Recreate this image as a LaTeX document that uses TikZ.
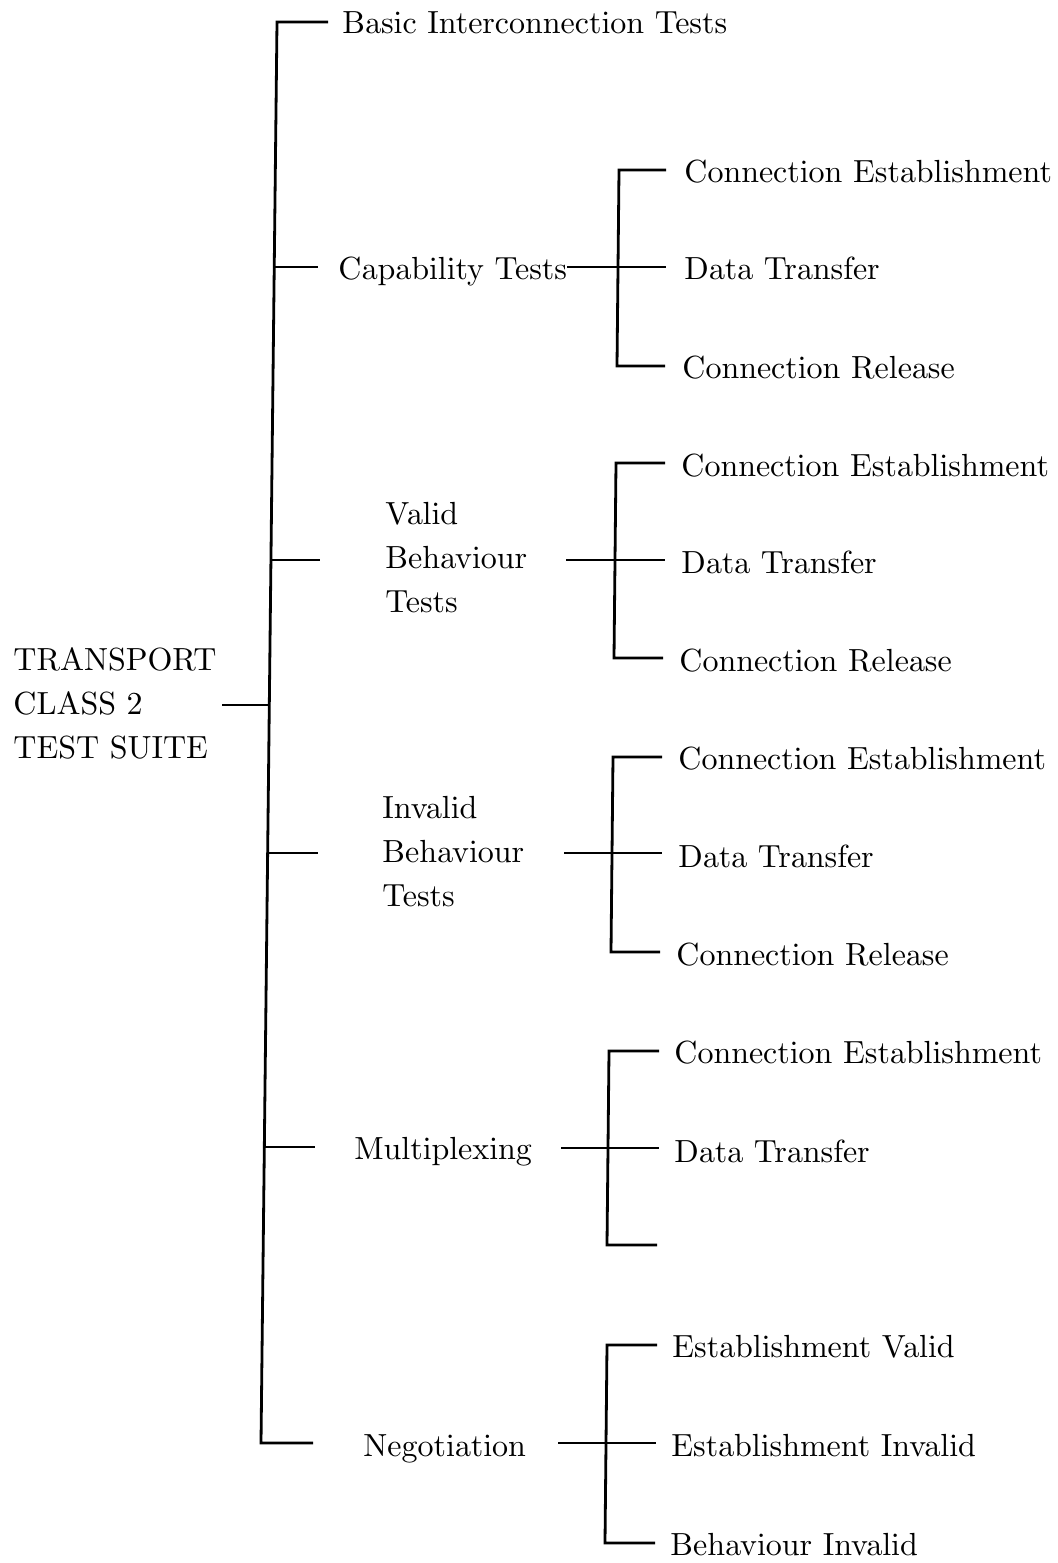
\documentclass[tikz,border=0pt]{standalone}
\font\trm=cmr10 at 16pt
\begin{document}
\begin{tikzpicture}[x=0.5pt,y=-0.5pt, line width=1.4pt,
  lbl/.style={inner sep=0pt, font={\fontsize{16}{22}\selectfont\trm}, anchor=base west},
  mlbl/.style={inner sep=0pt, font={\fontsize{16}{22}\selectfont\trm}, anchor=west, align=left}]
\useasboundingbox (0,0) rectangle (1058,1563);
% ---- text nodes ----
\node[mlbl] (root) at (12,704) {TRANSPORT\\CLASS 2\\TEST SUITE};
\node[lbl] (basic) at (341,33) {Basic Interconnection Tests};
\node[lbl] (cap) at (337,279) {Capability Tests};
\node[mlbl] (valid) at (384,557) {Valid\\Behaviour\\Tests};
\node[mlbl] (invalid) at (381,851) {Invalid\\Behaviour\\Tests};
\node[lbl] (mux) at (353,1159) {Multiplexing};
\node[lbl] (neg) at (362,1456) {Negotiation};
% capability children
\node[lbl] (c1) at (683,182) {Connection Establishment};
\node[lbl] (c2) at (683,279) {Data Transfer};
\node[lbl] (c3) at (681,378) {Connection Release};
% valid children
\node[lbl] (v1) at (680,476) {Connection Establishment};
\node[lbl] (v2) at (680,573) {Data Transfer};
\node[lbl] (v3) at (678,671) {Connection Release};
% invalid children
\node[lbl] (i1) at (677,769) {Connection Establishment};
\node[lbl] (i2) at (677,867) {Data Transfer};
\node[lbl] (i3) at (675,965) {Connection Release};
% multiplexing children
\node[lbl] (m1) at (673,1063) {Connection Establishment};
\node[lbl] (m2) at (673,1162) {Data Transfer};
% negotiation children
\node[lbl] (n1) at (671,1357) {Establishment Valid};
\node[lbl] (n2) at (670,1456) {Establishment Invalid};
\node[lbl] (n3) at (669,1555) {Behaviour Invalid};
% ---- main trunk ----
\coordinate (rs) at (222,705);
\coordinate (tb) at (277,22);   \coordinate (sb) at (328,22);
\coordinate (tc) at (274.2,267); \coordinate (sc) at (318,267);
\coordinate (tv) at (270.9,560); \coordinate (sv) at (320,560);
\coordinate (tr) at (269.3,705);
\coordinate (ti) at (267.6,853); \coordinate (si) at (318,853);
\coordinate (tm) at (264.3,1147); \coordinate (sm) at (315,1147);
\coordinate (tn) at (261,1443); \coordinate (sn) at (313,1443);
\draw (sb) -- (tb) -- (tn) -- (sn);
\draw (rs) -- (tr);
\draw (tc) -- (sc);
\draw (tv) -- (sv);
\draw (ti) -- (si);
\draw (tm) -- (sm);
% ---- capability group ----
\coordinate (cs) at (567,267); \coordinate (ct) at (619,170); \coordinate (cb) at (617,366);
\coordinate (ce1) at (666,170); \coordinate (ce2) at (666,267); \coordinate (ce3) at (665,366);
\draw (ce1) -- (ct) -- (cb) -- (ce3);
\draw (cs) -- (ce2);
% ---- valid group ----
\coordinate (vs) at (566,560); \coordinate (vt) at (616,463); \coordinate (vb) at (614,658);
\coordinate (ve1) at (665,463); \coordinate (ve2) at (665,560); \coordinate (ve3) at (663,658);
\draw (ve1) -- (vt) -- (vb) -- (ve3);
\draw (vs) -- (ve2);
% ---- invalid group ----
\coordinate (is) at (564,853); \coordinate (it) at (613,757); \coordinate (ib) at (611,952);
\coordinate (ie1) at (662,757); \coordinate (ie2) at (662,853); \coordinate (ie3) at (660,952);
\draw (ie1) -- (it) -- (ib) -- (ie3);
\draw (is) -- (ie2);
% ---- multiplexing group ----
\coordinate (ms) at (561,1148); \coordinate (mt) at (609,1051); \coordinate (mb) at (607,1245);
\coordinate (me1) at (659,1051); \coordinate (me2) at (659,1148); \coordinate (me3) at (657,1245);
\draw (me1) -- (mt) -- (mb) -- (me3);
\draw (ms) -- (me2);
% ---- negotiation group ----
\coordinate (ns) at (558,1443); \coordinate (nt) at (607,1345); \coordinate (nb) at (605,1543);
\coordinate (ne1) at (657,1345); \coordinate (ne2) at (656,1443); \coordinate (ne3) at (655,1543);
\draw (ne1) -- (nt) -- (nb) -- (ne3);
\draw (ns) -- (ne2);
\end{tikzpicture}
\end{document}
